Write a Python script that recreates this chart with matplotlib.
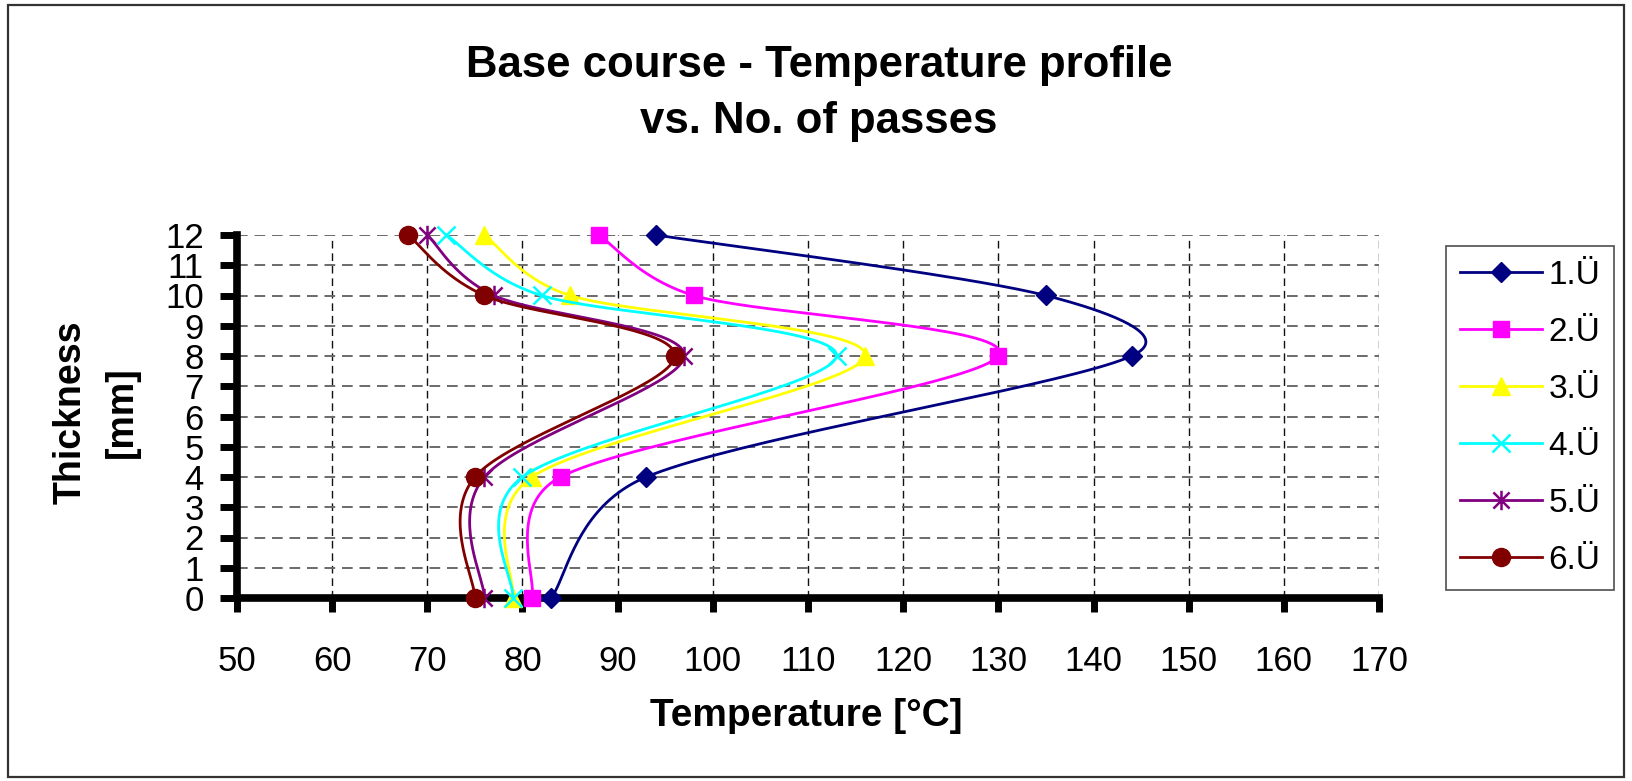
import numpy as np
import matplotlib
matplotlib.use('Agg')
import matplotlib.pyplot as plt
from matplotlib.path import Path
from matplotlib.patches import Rectangle

# ---------------- data ----------------
thickness = [0, 4, 8, 10, 12]
series_labels = ['1.Ü', '2.Ü', '3.Ü', '4.Ü', '5.Ü', '6.Ü']
temp_1 = [83, 93, 144, 135, 94]
temp_2 = [81, 84, 130, 98, 88]
temp_3 = [79, 81, 116, 85, 76]
temp_4 = [79, 80, 113, 82, 72]
temp_5 = [76, 76, 97, 77, 70]
temp_6 = [75, 75, 96, 76, 68]
x_ticks = list(range(50, 171, 10))
y_ticks = list(range(0, 13))

title_1 = 'Base course - Temperature profile'
title_2 = 'vs. No. of passes'
xlabel = 'Temperature [°C]'
ylabel_1 = 'Thickness'
ylabel_2 = '[mm]'

# ---------------- style ----------------
colors = ['#000080', '#FF00FF', '#FFFF00', '#00FFFF', '#800080', '#800000']
asterisk = Path([(-1, -1), (1, 1), (-1, 1), (1, -1), (0, -1.2), (0, 1.2)],
                [Path.MOVETO, Path.LINETO] * 3)
markers = ['D', 's', '^', 'x', asterisk, 'o']
msizes = [10, 11.5, 13.5, 13.5, 14, 13]
mews = [1, 1, 1, 1.8, 1.8, 1]

plt.rcParams['font.family'] = ['Liberation Sans', 'DejaVu Sans']

W, H = 1632, 781
fig = plt.figure(figsize=(W / 100, H / 100), dpi=100)
ax = fig.add_axes([237 / W, 1 - 598 / H, (1379 - 237) / W, (598 - 235) / H])
ax.set_xlim(x_ticks[0], x_ticks[-1])
ax.set_ylim(y_ticks[0], y_ticks[-1])


def excel_smooth(ax, xs, ys, n=40):
    """Excel-like Bezier smoothing computed in display space."""
    pts = ax.transData.transform(np.column_stack([xs, ys]).astype(float))
    m = len(pts)
    out = [pts[0]]
    idx = [0]
    for i in range(m - 1):
        p0 = pts[i - 1] if i > 0 else pts[i]
        p1 = pts[i]
        p2 = pts[i + 1]
        p3 = pts[i + 2] if i + 2 < m else pts[i + 1]
        d12 = np.hypot(*(p2 - p1))
        d02 = np.hypot(*(p2 - p0))
        d13 = np.hypot(*(p3 - p1))
        f1 = 1 / 6 if d02 / 6 < d12 / 2 else d12 / (2 * d02)
        f2 = 1 / 6 if d13 / 6 < d12 / 2 else d12 / (2 * d13)
        c1 = p1 + (p2 - p0) * f1
        c2 = p2 - (p3 - p1) * f2
        t = np.linspace(0, 1, n + 1)[1:, None]
        b = ((1 - t) ** 3 * p1 + 3 * (1 - t) ** 2 * t * c1
             + 3 * (1 - t) * t ** 2 * c2 + t ** 3 * p2)
        out.extend(b)
        idx.append(len(out) - 1)
    out = np.array(out)
    data = ax.transData.inverted().transform(out)
    return data[:, 0], data[:, 1], idx


all_series = [temp_1, temp_2, temp_3, temp_4, temp_5, temp_6]
for k, temps in enumerate(all_series):
    sx, sy, idx = excel_smooth(ax, temps, thickness)
    ax.plot(sx, sy, color=colors[k], lw=2.0, marker=markers[k], markevery=idx,
            markersize=msizes[k], markerfacecolor=colors[k],
            markeredgecolor=colors[k], markeredgewidth=mews[k],
            label=series_labels[k], zorder=3 + k * 0.01, clip_on=False)

# grid
ax.set_axisbelow(True)
ax.set_xticks(x_ticks)
ax.set_yticks(y_ticks)
ax.grid(axis='x', color='#111111', ls=(0, (5.5, 3.5)), lw=1.0)
ax.grid(axis='y', color='#6a6a6a', ls=(0, (5.5, 3.5)), lw=1.4)

for s in ['top', 'right']:
    ax.spines[s].set_visible(False)
for s in ['left', 'bottom']:
    ax.spines[s].set_linewidth(5.5)
    ax.spines[s].set_color('black')

ax.tick_params(axis='x', direction='out', length=10, width=5, pad=24,
               labelsize=25, colors='black')
ax.tick_params(axis='y', direction='out', length=12, width=5, pad=12,
               labelsize=25, colors='black')

# titles and labels
fig.text(819 / W, 1 - 77 / H, title_1, ha='center', va='baseline',
         fontsize=31.5, fontweight='bold')
fig.text(819 / W, 1 - 133 / H, title_2, ha='center', va='baseline',
         fontsize=31.5, fontweight='bold')
fig.text(806 / W, 1 - 716 / H, xlabel, ha='center', va='center',
         fontsize=28, fontweight='bold')
fig.text(71 / W, 1 - 412 / H, ylabel_1, ha='center', va='center',
         rotation=90, fontsize=27, fontweight='bold')
fig.text(122 / W, 1 - 412 / H, ylabel_2, ha='center', va='center',
         rotation=90, fontsize=27, fontweight='bold')

# legend
lx0, ly0, lx1, ly1 = 1447, 244, 1613, 592
leg = fig.legend(loc='center', bbox_to_anchor=((lx0 + lx1) / 2 / W, 1 - (ly0 + ly1) / 2 / H),
                 fontsize=24, frameon=True, fancybox=False, edgecolor='#222222',
                 handlelength=2.45, handletextpad=0.2, borderpad=0.42,
                 labelspacing=0.78, borderaxespad=0)
leg.get_frame().set_linewidth(1.2)

# figure border
fig.patches.append(Rectangle((8 / W, 1 - 777 / H), (1624 - 8) / W, (777 - 5) / H,
                             transform=fig.transFigure, fill=False,
                             edgecolor='#333333', lw=1.6))

fig.savefig('out.png', dpi=100)
